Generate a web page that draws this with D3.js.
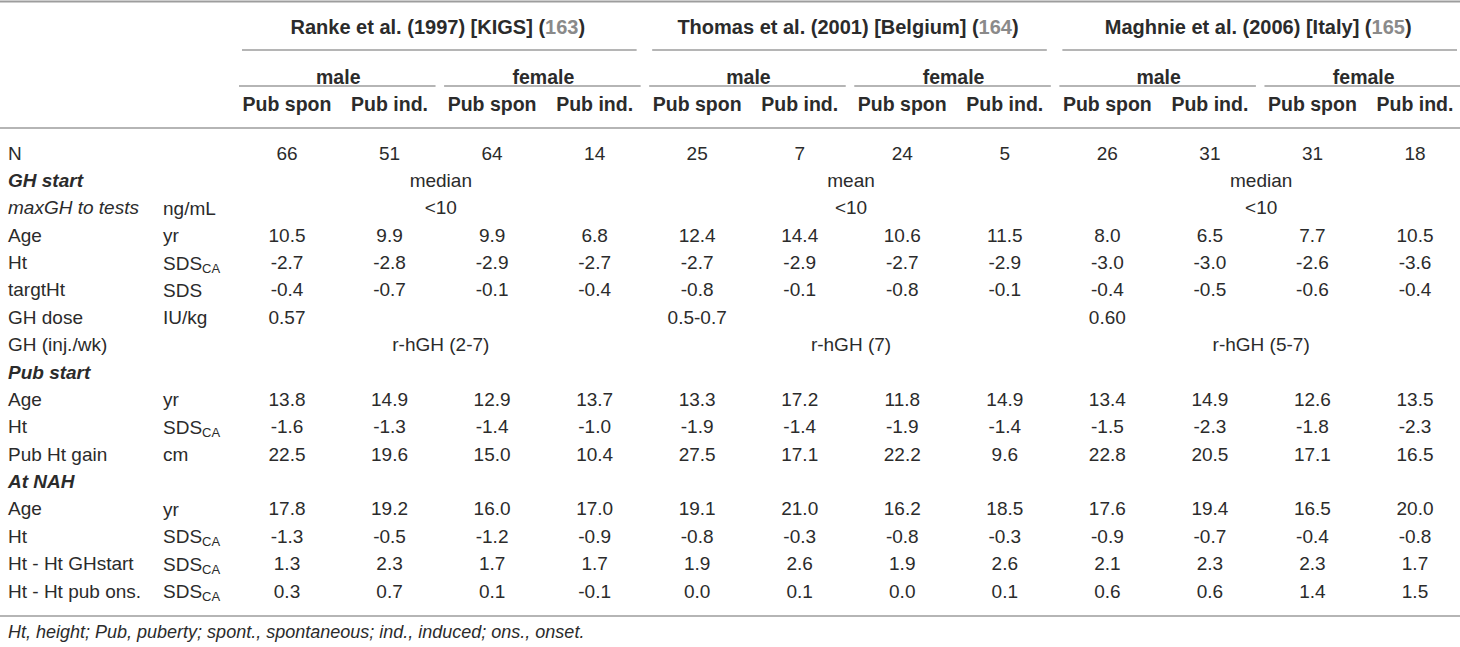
<!DOCTYPE html>
<html>
<head>
<meta charset="utf-8">
<script src="https://cdn.jsdelivr.net/npm/d3@7"></script>
<style>
  html, body { margin: 0; padding: 0; background: #fff; }
  svg { display: block; font-family: "Liberation Sans", Arial, Helvetica, sans-serif; }
</style>
</head>
<body>
<svg id="table" width="1460" height="647"></svg>
<script>
const studies = ["Ranke et al. (1997) [KIGS]", "Thomas et al. (2001) [Belgium]", "Maghnie et al. (2006) [Italy]"];
const refs = ["163", "164", "165"];
const sexes = ["male", "female"];
const subCols = ["Pub spon", "Pub ind."];

const rowLabels = ["N", "GH start", "maxGH to tests", "Age", "Ht", "targtHt", "GH dose", "GH (inj./wk)",
  "Pub start", "Age", "Ht", "Pub Ht gain", "At NAH", "Age", "Ht", "Ht - Ht GHstart", "Ht - Ht pub ons."];
const rowUnits = ["", "", "ng/mL", "yr", "SDS|CA", "SDS", "IU/kg", "", "", "yr", "SDS|CA", "cm", "", "yr", "SDS|CA", "SDS|CA", "SDS|CA"];
const sectionRows = [1, 8, 12];

// one value per column (12 columns)
const nValues  = [66, 51, 64, 14, 25, 7, 24, 5, 26, 31, 31, 18];
const ghAge    = [10.5, 9.9, 9.9, 6.8, 12.4, 14.4, 10.6, 11.5, 8.0, 6.5, 7.7, 10.5];
const ghHt     = [-2.7, -2.8, -2.9, -2.7, -2.7, -2.9, -2.7, -2.9, -3.0, -3.0, -2.6, -3.6];
const targtHt  = [-0.4, -0.7, -0.1, -0.4, -0.8, -0.1, -0.8, -0.1, -0.4, -0.5, -0.6, -0.4];
const pubAge   = [13.8, 14.9, 12.9, 13.7, 13.3, 17.2, 11.8, 14.9, 13.4, 14.9, 12.6, 13.5];
const pubHt    = [-1.6, -1.3, -1.4, -1.0, -1.9, -1.4, -1.9, -1.4, -1.5, -2.3, -1.8, -2.3];
const pubGain  = [22.5, 19.6, 15.0, 10.4, 27.5, 17.1, 22.2, 9.6, 22.8, 20.5, 17.1, 16.5];
const nahAge   = [17.8, 19.2, 16.0, 17.0, 19.1, 21.0, 16.2, 18.5, 17.6, 19.4, 16.5, 20.0];
const nahHt    = [-1.3, -0.5, -1.2, -0.9, -0.8, -0.3, -0.8, -0.3, -0.9, -0.7, -0.4, -0.8];
const gainGH   = [1.3, 2.3, 1.7, 1.7, 1.9, 2.6, 1.9, 2.6, 2.1, 2.3, 2.3, 1.7];
const gainPub  = [0.3, 0.7, 0.1, -0.1, 0.0, 0.1, 0.0, 0.1, 0.6, 0.6, 1.4, 1.5];

// one value per study
const ghStat   = ["median", "mean", "median"];
const maxGH    = ["<10", "<10", "<10"];
const ghDose   = ["0.57", "0.5-0.7", "0.60"];
const ghInj    = ["r-hGH (2-7)", "r-hGH (7)", "r-hGH (5-7)"];

const footnote = "Ht, height; Pub, puberty; spont., spontaneous; ind., induced; ons., onset.";

const width = 1460;
const svg = d3.select("#table");
const ink = "#2b2b2b";
const rule = "#9d9d9d";

const cols = d3.range(12);
const x = d3.scalePoint().domain(cols).range([287, 1415]);
const y = d3.scalePoint().domain(d3.range(rowLabels.length)).range([153, 591]);
const fmt = v => v.toFixed(1);

// header rules
const hline = (x1, x2, yy, w) => svg.append("line")
  .attr("x1", x1).attr("x2", x2).attr("y1", yy).attr("y2", yy)
  .attr("stroke", rule).attr("stroke-width", w);

hline(0, width, 1.5, 2);
hline(0, width, 128, 1.5);
hline(0, width, 616, 1.5);

// study headers
studies.forEach((s, i) => {
  const c0 = x(i * 4), c1 = x(i * 4 + 3);
  const t = svg.append("text")
    .attr("x", (c0 + c1) / 2 - 3).attr("y", 27)
    .attr("text-anchor", "middle").attr("dominant-baseline", "central")
    .attr("font-size", 20).attr("font-weight", "bold").attr("fill", ink);
  t.append("tspan").text(s + " (");
  t.append("tspan").attr("fill", "#8a8a8a").text(refs[i]);
  t.append("tspan").text(")");
  hline(c0 - 45, c1 + 42, 50, 1.5);

  sexes.forEach((sx, j) => {
    const a = x(i * 4 + j * 2), b = x(i * 4 + j * 2 + 1);
    svg.append("text")
      .attr("x", (a + b) / 2).attr("y", 77)
      .attr("text-anchor", "middle").attr("dominant-baseline", "central")
      .attr("font-size", 19.5).attr("font-weight", "bold").attr("fill", ink)
      .text(sx);
    hline(a - 48, b + 46, 86, 1.5);
  });
});

// sub column headers
svg.selectAll("text.sub")
  .data(cols)
  .enter()
  .append("text")
  .attr("class", "sub")
  .attr("x", d => x(d)).attr("y", 104)
  .attr("text-anchor", "middle").attr("dominant-baseline", "central")
  .attr("font-size", 19.5).attr("font-weight", "bold").attr("fill", ink)
  .text(d => subCols[d % 2]);

// row labels
svg.selectAll("text.label")
  .data(rowLabels)
  .enter()
  .append("text")
  .attr("class", "label")
  .attr("x", 8).attr("y", (d, i) => y(i))
  .attr("dominant-baseline", "central")
  .attr("font-size", 19).attr("fill", ink)
  .attr("font-weight", (d, i) => sectionRows.includes(i) ? "bold" : "normal")
  .attr("font-style", (d, i) => sectionRows.includes(i) || i === 2 ? "italic" : "normal")
  .text(d => d);

// units
rowUnits.forEach((u, i) => {
  if (!u) return;
  const [main, sub] = u.split("|");
  const t = svg.append("text")
    .attr("x", 163).attr("y", y(i))
    .attr("dominant-baseline", "central")
    .attr("font-size", 19).attr("fill", ink);
  t.append("tspan").text(main);
  if (sub) t.append("tspan").attr("font-size", 13).attr("dy", 5).text(sub);
});

// full rows
const fullRows = [
  [0, nValues.map(String)],
  [3, ghAge.map(fmt)], [4, ghHt.map(fmt)], [5, targtHt.map(fmt)],
  [9, pubAge.map(fmt)], [10, pubHt.map(fmt)], [11, pubGain.map(fmt)],
  [13, nahAge.map(fmt)], [14, nahHt.map(fmt)], [15, gainGH.map(fmt)], [16, gainPub.map(fmt)]
];

fullRows.forEach(([r, vals]) => {
  svg.selectAll(null)
    .data(vals)
    .enter()
    .append("text")
    .attr("x", (d, i) => x(i)).attr("y", y(r))
    .attr("text-anchor", "middle").attr("dominant-baseline", "central")
    .attr("font-size", 19).attr("fill", ink)
    .text(d => d);
});

// spanning rows (centred across each study)
[[1, ghStat], [2, maxGH], [7, ghInj]].forEach(([r, vals]) => {
  svg.selectAll(null)
    .data(vals)
    .enter()
    .append("text")
    .attr("x", (d, i) => (x(i * 4 + 1) + x(i * 4 + 2)) / 2).attr("y", y(r))
    .attr("text-anchor", "middle").attr("dominant-baseline", "central")
    .attr("font-size", 19).attr("fill", ink)
    .text(d => d);
});

// GH dose sits in the first column of each study
svg.selectAll(null)
  .data(ghDose)
  .enter()
  .append("text")
  .attr("x", (d, i) => x(i * 4)).attr("y", y(6))
  .attr("text-anchor", "middle").attr("dominant-baseline", "central")
  .attr("font-size", 19).attr("fill", ink)
  .text(d => d);

svg.append("text")
  .attr("x", 8).attr("y", 632)
  .attr("dominant-baseline", "central")
  .attr("font-size", 18).attr("font-style", "italic").attr("fill", ink)
  .text(footnote);
</script>
</body>
</html>
